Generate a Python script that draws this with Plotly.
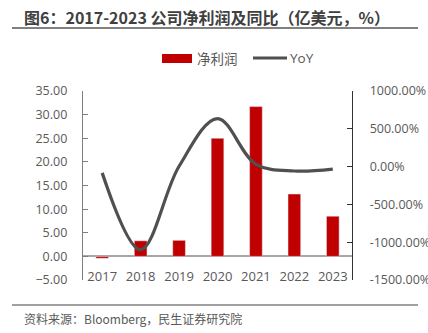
import plotly.graph_objects as go

years = ["2017", "2018", "2019", "2020", "2021", "2022", "2023"]
net_profit = [-0.4, 3.3, 3.4, 25.0, 31.7, 13.2, 8.5]
yoy = [-83, -1100, 5, 635, 30, -58, -33]

left_ticks = [-5, 0, 5, 10, 15, 20, 25, 30, 35]
right_ticks = [-1500, -1000, -500, 0, 500, 1000]
right_labels = [f"{v:.2f}%" for v in right_ticks]

FONT = "Open Sans, Noto Sans CJK SC, sans-serif"
CJK = "Noto Sans CJK SC, sans-serif"

fig = go.Figure()
fig.add_trace(go.Bar(x=years, y=net_profit, name="净利润", marker_color="#C00000",
                     width=0.33, yaxis="y"))
fig.add_trace(go.Scatter(x=years, y=yoy, name="YoY", mode="lines",
                         line=dict(color="#505050", width=3.2, shape="spline", smoothing=1.0),
                         yaxis="y2"))

fig.update_layout(
    width=428, height=333,
    margin=dict(l=83, r=76, t=91, b=53),
    paper_bgcolor="white", plot_bgcolor="white",
    showlegend=False,
    font=dict(family=FONT, size=12, color="#595959"),
    xaxis=dict(type="category", range=[-0.5, 6.5], showline=False, ticks="",
               anchor="free", position=0.068, showgrid=False, zeroline=False,
               automargin=False, tickfont=dict(size=13, color="#595959")),
    yaxis=dict(range=[-5, 35], tickvals=left_ticks, tickformat=".2f",
               showline=True, linecolor="#7f7f7f", linewidth=1.3,
               ticks="inside", ticklen=5, tickcolor="#7f7f7f",
               showgrid=False, zeroline=True, zerolinecolor="#a6a6a6", zerolinewidth=1.5,
               automargin=False, ticklabelstandoff=12, tickfont=dict(size=12.5, color="#595959")),
    yaxis2=dict(range=[-1500, 1000], tickvals=right_ticks, ticktext=right_labels,
                overlaying="y", side="right", anchor="x",
                showline=True, linecolor="#333333", linewidth=1.3,
                ticks="inside", ticklen=5, tickcolor="#333333",
                showgrid=False, zeroline=False, automargin=False,
                ticklabelstandoff=14, tickfont=dict(size=12.5, color="#595959")),
)

# title and rules
fig.add_annotation(text="<b>图6：2017-2023 公司净利润及同比（亿美元，%）</b>",
                   xref="paper", yref="paper", x=(22 - 83) / 269, y=(280 - 17) / 189,
                   xanchor="left", yanchor="middle", showarrow=False,
                   font=dict(family=CJK, size=16, color="#404040"))
fig.add_shape(type="line", xref="paper", yref="paper",
              x0=(12 - 83) / 269, x1=(418 - 83) / 269,
              y0=(280 - 28) / 189, y1=(280 - 28) / 189,
              line=dict(color="#808080", width=2))
fig.add_shape(type="line", xref="paper", yref="paper",
              x0=(12 - 83) / 269, x1=(418 - 83) / 269,
              y0=(280 - 305) / 189, y1=(280 - 305) / 189,
              line=dict(color="#808080", width=1.5))
fig.add_annotation(text="资料来源：Bloomberg，民生证券研究院",
                   xref="paper", yref="paper", x=(22 - 83) / 269, y=(280 - 318) / 189,
                   xanchor="left", yanchor="middle", showarrow=False,
                   font=dict(family=CJK, size=12, color="#595959"))

# legend
fig.add_shape(type="rect", xref="paper", yref="paper",
              x0=(162 - 83) / 269, x1=(192 - 83) / 269,
              y0=(280 - 63) / 189, y1=(280 - 54) / 189,
              fillcolor="#C00000", line=dict(width=0))
fig.add_annotation(text="净利润", xref="paper", yref="paper",
                   x=(195 - 83) / 269, y=(280 - 58) / 189, xanchor="left", yanchor="middle",
                   showarrow=False, font=dict(family=CJK, size=13.5, color="#595959"))
fig.add_shape(type="line", xref="paper", yref="paper",
              x0=(253 - 83) / 269, x1=(287 - 83) / 269,
              y0=(280 - 58) / 189, y1=(280 - 58) / 189,
              line=dict(color="#505050", width=3))
fig.add_annotation(text="YoY", xref="paper", yref="paper",
                   x=(288 - 83) / 269, y=(280 - 58) / 189, xanchor="left", yanchor="middle",
                   showarrow=False, font=dict(family=FONT, size=13.5, color="#595959"))

fig.write_html("out.html")
